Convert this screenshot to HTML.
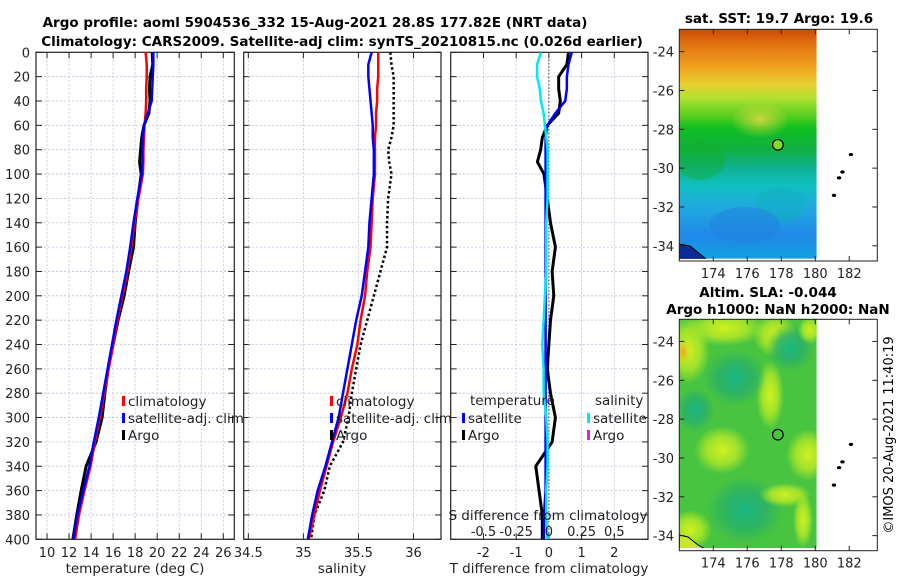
<!DOCTYPE html>
<html><head><meta charset="utf-8">
<style>
html,body{margin:0;padding:0;background:#fff;}
svg{display:block;font-family:"DejaVu Sans","Liberation Sans",sans-serif;}
</style></head>
<body>
<svg id="fig" width="900" height="580" viewBox="0 0 900 580" xmlns="http://www.w3.org/2000/svg">
<defs>
<linearGradient id="sstGrad" x1="0" y1="0" x2="0" y2="1">
<stop offset="0" stop-color="#cc4a00"/>
<stop offset="0.06" stop-color="#e07010"/>
<stop offset="0.16" stop-color="#f0a020"/>
<stop offset="0.24" stop-color="#e8d030"/>
<stop offset="0.30" stop-color="#b0e030"/>
<stop offset="0.37" stop-color="#60d020"/>
<stop offset="0.43" stop-color="#10c020"/>
<stop offset="0.52" stop-color="#10b040"/>
<stop offset="0.60" stop-color="#10b090"/>
<stop offset="0.68" stop-color="#10c0c0"/>
<stop offset="0.78" stop-color="#20a8e0"/>
<stop offset="0.90" stop-color="#2088e8"/>
<stop offset="1" stop-color="#10a0e0"/>
</linearGradient>
<radialGradient id="yb"><stop offset="0" stop-color="#d0f020"/><stop offset="0.55" stop-color="#b0e828" stop-opacity="0.85"/><stop offset="1" stop-color="#b0e828" stop-opacity="0"/></radialGradient>
<radialGradient id="tb"><stop offset="0" stop-color="#18b888"/><stop offset="0.55" stop-color="#28b068" stop-opacity="0.8"/><stop offset="1" stop-color="#28b068" stop-opacity="0"/></radialGradient>
<radialGradient id="ob"><stop offset="0" stop-color="#f0a020"/><stop offset="1" stop-color="#e0e020" stop-opacity="0"/></radialGradient>
<radialGradient id="ylw"><stop offset="0" stop-color="#e8d840"/><stop offset="1" stop-color="#e8d840" stop-opacity="0"/></radialGradient>
<clipPath id="c1"><rect x="36" y="52.3" width="198.3" height="487"/></clipPath>
<clipPath id="c2"><rect x="243.7" y="52.3" width="197.3" height="487"/></clipPath>
<clipPath id="c3"><rect x="450.7" y="52.3" width="197.3" height="487"/></clipPath>
<clipPath id="m1c"><rect x="679.3" y="29.3" width="137.4" height="229.4"/></clipPath>
<clipPath id="m2c"><rect x="679.3" y="319.3" width="137.4" height="228.7"/></clipPath>
</defs>

<text x="315" y="27" text-anchor="middle" font-weight="bold" font-size="13.5">Argo profile: aoml 5904536_332 15-Aug-2021 28.8S 177.82E (NRT data)</text>
<text x="342" y="46" text-anchor="middle" font-weight="bold" font-size="13.5">Climatology: CARS2009. Satellite-adj clim: synTS_20210815.nc (0.026d earlier)</text>

<g id="p1"></g>
<g id="p2"></g>
<g id="p3"></g>

<!-- SST map -->
<g>
<text x="779" y="23" text-anchor="middle" font-weight="bold" font-size="13.5">sat. SST: 19.7 Argo: 19.6</text>
<g clip-path="url(#m1c)">
<rect x="679.3" y="29.3" width="137.4" height="229.4" fill="url(#sstGrad)"/>
<ellipse cx="760" cy="120" rx="30" ry="18" fill="url(#ylw)" opacity="0.8"/>
<ellipse cx="700" cy="160" rx="25" ry="20" fill="#10b020" opacity="0.4"/>
<ellipse cx="780" cy="205" rx="25" ry="18" fill="#10b0c0" opacity="0.5"/>
<ellipse cx="745" cy="225" rx="35" ry="18" fill="#2080e0" opacity="0.5"/>
<path d="M679.3,244 L690,246 L700,254 L706,259 L679.3,259 Z" fill="#0a2a9a" stroke="#000" stroke-width="1"/>
</g>
<rect x="679.3" y="29.3" width="198" height="231.7" fill="none" stroke="#222" stroke-width="1"/>
<g id="m1ticks"></g>
</g>

<!-- SLA map -->
<g>
<text x="768" y="297" text-anchor="middle" font-weight="bold" font-size="13.5">Altim. SLA: -0.044</text>
<text x="778" y="314" text-anchor="middle" font-weight="bold" font-size="13.5">Argo h1000: NaN h2000: NaN</text>
<g clip-path="url(#m2c)">
<rect x="679.3" y="319.3" width="137.4" height="228.7" fill="#48c440"/>
<ellipse cx="688" cy="350" rx="22" ry="34" fill="url(#yb)"/>
<ellipse cx="683" cy="352" rx="8" ry="14" fill="url(#ob)"/>
<ellipse cx="725" cy="328" rx="40" ry="18" fill="url(#yb)"/>
<ellipse cx="775" cy="335" rx="22" ry="22" fill="url(#yb)"/>
<ellipse cx="770" cy="395" rx="14" ry="35" fill="url(#yb)"/>
<ellipse cx="790" cy="348" rx="24" ry="24" fill="url(#tb)"/>
<ellipse cx="735" cy="378" rx="32" ry="28" fill="url(#tb)"/>
<ellipse cx="810" cy="330" rx="12" ry="14" fill="url(#yb)"/>
<ellipse cx="722" cy="450" rx="28" ry="24" fill="url(#yb)"/>
<ellipse cx="808" cy="455" rx="22" ry="26" fill="url(#yb)"/>
<ellipse cx="695" cy="410" rx="20" ry="22" fill="url(#tb)"/>
<ellipse cx="745" cy="510" rx="38" ry="34" fill="url(#tb)"/>
<ellipse cx="785" cy="495" rx="26" ry="12" fill="url(#yb)"/>
<ellipse cx="803" cy="520" rx="10" ry="28" fill="url(#yb)"/>
<ellipse cx="690" cy="530" rx="22" ry="20" fill="url(#yb)"/>
<path d="M679.3,535 L688,537 L698,545 L705,549 L679.3,549 Z" fill="#c8e830" stroke="#000" stroke-width="1"/>
</g>
<rect x="679.3" y="319.3" width="198" height="231.4" fill="none" stroke="#222" stroke-width="1"/>
<g id="m2ticks"></g>
</g>

<text x="0" y="0" transform="translate(893,435) rotate(-90)" text-anchor="middle" font-size="13">©IMOS 20-Aug-2021 11:40:19</text>
</svg>

<script>
// ---- data ----
var depths = [0,10,20,30,40,50,60,70,80,90,100,120,140,160,180,200,220,240,260,280,300,320,340,360,380,400];
var depthTicks = [0,20,40,60,80,100,120,140,160,180,200,220,240,260,280,300,320,340,360,380,400];
var tempClim = [18.95,19.05,19.05,19.0,19.0,18.95,18.85,18.8,18.75,18.75,18.7,18.3,17.95,17.65,17.3,16.85,16.4,16.0,15.6,15.2,14.8,14.35,13.95,13.4,12.9,12.55];
var tempSat = [19.65,19.65,19.6,19.55,19.5,19.15,18.8,18.7,18.65,18.65,18.6,18.2,17.85,17.55,17.2,16.75,16.3,15.9,15.5,15.1,14.7,14.25,13.85,13.3,12.75,12.4];
var tempArgo = [19.55,19.6,19.35,19.3,19.35,19.25,18.8,18.6,18.5,18.4,18.55,18.25,18.0,17.85,17.4,17.0,16.45,16.0,15.55,15.25,15.0,14.45,13.55,13.1,12.7,12.35];
var salClim = [35.68,35.68,35.68,35.67,35.67,35.66,35.66,35.65,35.65,35.65,35.65,35.63,35.62,35.61,35.58,35.56,35.52,35.49,35.44,35.40,35.34,35.27,35.21,35.15,35.10,35.05];
var salSat = [35.62,35.59,35.59,35.60,35.61,35.62,35.63,35.63,35.64,35.64,35.64,35.62,35.60,35.59,35.56,35.53,35.48,35.44,35.40,35.36,35.32,35.26,35.20,35.13,35.08,35.04];
var salArgo = [35.79,35.80,35.82,35.82,35.82,35.82,35.82,35.80,35.77,35.78,35.80,35.77,35.76,35.76,35.70,35.64,35.58,35.52,35.48,35.44,35.41,35.36,35.24,35.19,35.10,35.07];
var tempTicks = [10,12,14,16,18,20,22,24,26];
var salTicks = [34.5,35,35.5,36];
var salTickLabels = ["34.5","35","35.5","36"];
var tdiffTicks = [-2,-1,0,1,2];
var sdiffTicks = [-0.5,-0.25,0,0.25,0.5];
var sdiffTickLabels = ["-0.5","-0.25","0","0.25","0.5"];
var mapLonTicks = [174,176,178,180,182];
var mapLatTicks = [-24,-26,-28,-30,-32,-34];
var islandsLon = [181.1,181.4,181.6,182.1];
var islandsLat = [-31.4,-30.5,-30.2,-29.3];
var argoLon = 177.8, argoLat = -28.8;

var NS = "http://www.w3.org/2000/svg";
function mk(tag, attrs, parent){ var e=document.createElementNS(NS,tag); for(var k in attrs) e.setAttribute(k,attrs[k]); if(parent) parent.appendChild(e); return e; }

var TOP=52.3, BOT=539.3;
function yD(d){ return TOP + (d/400)*(BOT-TOP); }
function scale(d0,d1,r0,r1){ return function(v){ return r0+(v-d0)/(d1-d0)*(r1-r0); }; }

var panels = [
 {g:'p1', x0:36, x1:234.3, clip:'c1', sx:scale(9,27,36,234.3)},
 {g:'p2', x0:243.7, x1:441, clip:'c2', sx:scale(34.458,36.25,243.7,441)},
 {g:'p3', x0:450.7, x1:648, clip:'c3', sx:scale(-3,3.03,450.7,648)}
];
var sdx = scale(-0.75,0.7575,450.7,648);

function frame(p, xt){
  var g=document.getElementById(p.g);
  depthTicks.forEach(function(d){
    var l=mk('line',{x1:p.x0,x2:p.x1,y1:yD(d),y2:yD(d),stroke:'#b8c0dc','stroke-width':0.8,'stroke-dasharray':'2,2'},g);
    
    
    mk('line',{x1:p.x0,x2:p.x0+6,y1:yD(d),y2:yD(d),stroke:'#222','stroke-width':1},g);
    mk('line',{x1:p.x1-6,x2:p.x1,y1:yD(d),y2:yD(d),stroke:'#222','stroke-width':1},g);
  });
  xt.forEach(function(v){
    var x=p.sx(v);
    var l=mk('line',{x1:x,x2:x,y1:TOP,y2:BOT,stroke:'#b8c0dc','stroke-width':0.8,'stroke-dasharray':'2,2'},g);
    
    
    mk('line',{x1:x,x2:x,y1:BOT-6,y2:BOT,stroke:'#222','stroke-width':1},g);
    mk('line',{x1:x,x2:x,y1:TOP,y2:TOP+6,stroke:'#222','stroke-width':1},g);
  });
  var r=mk('rect',{x:p.x0,y:TOP,width:p.x1-p.x0,height:BOT-TOP,fill:'none',stroke:'#222','stroke-width':1.2},g);
  
  
  return g;
}
function line(g,p,xs,color,w,dash,name){
  var pts=depths.map(function(d,i){return xs[i].toFixed(2)+','+yD(d).toFixed(2);}).join(' ');
  var e=mk('polyline',{points:pts,fill:'none',stroke:color,'stroke-width':w,'stroke-linejoin':'round','clip-path':'url(#'+p.clip+')'},g);
  if(dash) e.setAttribute('stroke-dasharray',dash);
  
  
}
function txt(g,x,y,s,anchor,size,name){
  var t=mk('text',{x:x,y:y,'text-anchor':anchor||'start','font-size':size||13,fill:'#222'},g);
  t.textContent=s;
  
  
  return t;
}
function legend(g,x,y,color,label,name){
  var m=mk('rect',{x:x,y:y-5,width:3,height:10,fill:color},g);
  
  
  txt(g,x+6,y+5,label,'start',13.5,name+'-label');
}

// Panel 1
var p=panels[0], g=frame(p,tempTicks);
depthTicks.forEach(function(d){ txt(g,30,yD(d)+5,String(d),'end',13,'depth-tick-label'); });
tempTicks.forEach(function(v){ txt(g,p.sx(v),557,String(v),'middle',13,'temp-tick-label'); });
txt(g,135,573,'temperature (deg C)','middle',13.5,'temperature-axis-title');
line(g,p,tempArgo.map(p.sx),'#000',3,null,'argo-temperature-line');
line(g,p,tempClim.map(p.sx),'#f00',2.5,null,'clim-temperature-line');
line(g,p,tempSat.map(p.sx),'#00f',2.5,null,'sat-temperature-line');
legend(g,122,401,'#f00','climatology','legend-climatology');
legend(g,122,418,'#00f','satellite-adj. clim','legend-satellite');
legend(g,122,435,'#000','Argo','legend-argo');

// Panel 2
p=panels[1]; g=frame(p,salTicks);
salTicks.forEach(function(v,i){ txt(g,p.sx(v),557,salTickLabels[i],'middle',13,'salinity-tick-label'); });
txt(g,342,573,'salinity','middle',13.5,'salinity-axis-title');
line(g,p,salArgo.map(p.sx),'#000',2.5,'2.5,2.5','argo-salinity-line');
line(g,p,salClim.map(p.sx),'#f00',2.5,null,'clim-salinity-line');
line(g,p,salSat.map(p.sx),'#00f',2.5,null,'sat-salinity-line');
legend(g,330,401,'#f00','climatology','legend-climatology');
legend(g,330,418,'#00f','satellite-adj. clim','legend-satellite');
legend(g,330,435,'#000','Argo','legend-argo');

// Panel 3
p=panels[2]; g=frame(p,tdiffTicks);
var z=mk('line',{x1:p.sx(0),x2:p.sx(0),y1:TOP,y2:BOT,stroke:'#555','stroke-width':1.2,'stroke-dasharray':'1.5,2'},g);


tdiffTicks.forEach(function(v){ txt(g,p.sx(v),557,String(v),'middle',13,'tdiff-tick-label'); });
txt(g,549,573,'T difference from climatology','middle',13.5,'tdiff-axis-title');
line(g,p,tempArgo.map(function(v,i){return p.sx(v-tempClim[i]);}),'#000',3,null,'argo-tdiff-line');
line(g,p,tempSat.map(function(v,i){return p.sx(v-tempClim[i]);}),'#00f',2.5,null,'sat-tdiff-line');
line(g,p,salSat.map(function(v,i){return sdx(v-salClim[i]);}),'#00e8f0',2.5,null,'sat-sdiff-line');
txt(g,548,520,'S difference from climatology','middle',13.5,'sdiff-axis-title');
sdiffTicks.forEach(function(v,i){ txt(g,sdx(v),536,sdiffTickLabels[i],'middle',13,'sdiff-tick-label'); });
txt(g,470,405,'temperature','start',13.5,'legend-temperature-heading');
txt(g,595,405,'salinity','start',13.5,'legend-salinity-heading');
legend(g,462,418,'#00f','satellite','legend-t-satellite');
legend(g,462,435,'#000','Argo','legend-t-argo');
legend(g,587,418,'#00e8f0','satellite','legend-s-satellite');
legend(g,587,435,'#e020e0','Argo','legend-s-argo');

// Maps
function mapAxes(id, top, bot, latTop){
  var g=document.getElementById(id);
  var lx=scale(172,183.65,679.3,877.3);
  var ly=function(lat){ return top + (latTop-lat)*19.42; };
  mapLonTicks.forEach(function(v){
    var x=lx(v);
    mk('line',{x1:x,x2:x,y1:bot-5,y2:bot,stroke:'#222'},g);
    mk('line',{x1:x,x2:x,y1:top,y2:top+5,stroke:'#222'},g);
    txt(g,x,bot+17,String(v),'middle',13,'lon-tick-label');
  });
  mapLatTicks.forEach(function(v){
    var y=ly(v);
    mk('line',{x1:679.3,x2:684.3,y1:y,y2:y,stroke:'#222'},g);
    mk('line',{x1:872.3,x2:877.3,y1:y,y2:y,stroke:'#222'},g);
    txt(g,674,y+5,String(v),'end',13,'lat-tick-label');
  });
  islandsLon.forEach(function(v,i){
    var c=mk('ellipse',{cx:lx(v),cy:ly(islandsLat[i]),rx:2.2,ry:1.6,fill:'#000'},g);
    
    
  });
  return {lx:lx,ly:ly,g:g};
}
var m1=mapAxes('m1ticks',29.3,261,-22.85);
var c1=mk('circle',{cx:m1.lx(argoLon),cy:m1.ly(argoLat),r:5.3,fill:'#80e020',stroke:'#000','stroke-width':1.2},m1.g);


var m2=mapAxes('m2ticks',319.3,550.7,-22.86);
var c2=mk('circle',{cx:m2.lx(argoLon),cy:m2.ly(argoLat),r:5.3,fill:'none',stroke:'#000','stroke-width':1.2},m2.g);


</script>
</body></html>
